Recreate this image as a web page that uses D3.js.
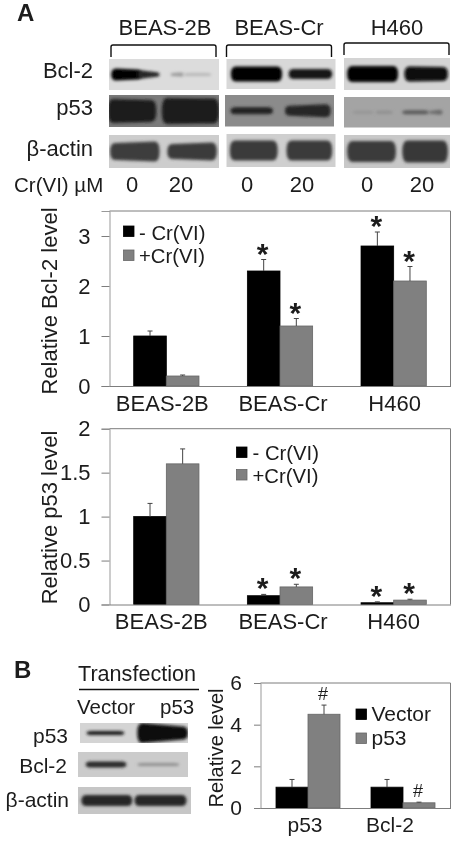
<!DOCTYPE html>
<html><head><meta charset="utf-8">
<style>html,body{margin:0;padding:0;background:#fff}svg{display:block}text{font-family:"Liberation Sans",Arial,sans-serif;fill:#1c1c1c}</style>
<script src="https://cdn.jsdelivr.net/npm/d3@7/dist/d3.min.js"></script>
</head><body><svg id="c" width="457" height="843"></svg>
<script>
// ---------- chart data ----------
const cellLines = ["BEAS-2B","BEAS-Cr","H460"];
const crSeries = ["- Cr(VI)","+Cr(VI)"];
const bcl2Minus = [1.0,2.3,2.8];
const bcl2Plus = [0.2,1.2,2.1];
const bcl2MinusTop = [1.1,2.53,3.08];
const bcl2PlusTop = [0.22,1.35,2.39];
const bcl2Ticks = [0,1,2,3];
const p53Minus = [1.0,0.1,0.02];
const p53Plus = [1.6,0.2,0.05];
const p53MinusTop = [1.15,0.115,0.03];
const p53PlusTop = [1.77,0.23,0.06];
const p53Ticks = [0,0.5,1,1.5,2];
const transSeries = ["Vector","p53"];
const transCats = ["p53","Bcl-2"];
const transVector = [1.0,1.0];
const transP53 = [4.5,0.25];
const transVectorTop = [1.37,1.37];
const transP53Top = [4.94,0.28];
const transTicks = [0,2,4,6];
const doses = ["0","20"];
// marks: which bars carry a significance symbol [group,series]
const bcl2Stars = [[1,0],[1,1],[2,0],[2,1]];
const p53Stars = [[1,0],[1,1],[2,0],[2,1]];
const transHash = [[0,1],[1,1]];
// ---------- blot data: [panel, start, end, thickLeft, thickRight, grey], start/end as a fraction of the panel width
const blotBcl2 = [[0,.02,.30,12,10,"#050505"],[0,.26,.46,8,5,"#262626"],[0,.56,.68,3,4,"#9a9a9a"],[0,.68,.93,3,3,"#b8b8b8"],
  [1,.04,.51,15,15,"#050505"],[1,.57,.97,10,10,"#151515"],[2,.03,.51,16,16,"#050505"],[2,.57,.98,15,14,"#0a0a0a"]];
const blotP53 = [[0,-.01,.43,24,22,"#1e1e1e"],[0,.48,1.0,26,25,"#1a1a1a"],
  [1,.05,.44,7,7,"#222"],[1,.55,.97,10,13,"#262626"],
  [2,.08,.28,3,3,"#959595"],[2,.30,.46,3,3,"#8e8e8e"],[2,.55,.80,4,4,"#5a5a5a"],[2,.80,.93,3,5,"#6a6a6a"]];
const blotActin = [[0,.01,.46,17,20,"#3c3c3c"],[0,.53,.98,15,18,"#3a3a3a"],
  [1,.03,.47,20,20,"#3a3a3a"],[1,.55,.97,20,20,"#3a3a3a"],[2,.03,.49,21,21,"#3a3a3a"],[2,.55,.98,22,22,"#383838"]];
const blotBP53 = [[0,.06,.41,4,4,"#1a1a1a"],[0,.53,1.0,20,13,"#0c0c0c"]];
const blotBBcl2 = [[0,.07,.44,6,6,"#2c2c2c"],[0,.54,.92,3,3,"#8f8f8f"]];
const blotBActin = [[0,.03,.48,11,11,"#262626"],[0,.50,.96,11,11,"#262626"]];

const svg = d3.select("#c");
const defs = svg.append("defs");
defs.append("filter").attr("id","bandBlur").attr("x","-20%").attr("y","-80%").attr("width","140%").attr("height","260%")
  .append("feGaussianBlur").attr("stdDeviation",1.8);
defs.append("filter").attr("id","soft").attr("x",0).attr("y",0).attr("width","100%").attr("height","100%")
  .attr("filterUnits","userSpaceOnUse").append("feGaussianBlur").attr("stdDeviation",0.35);
const root = svg.append("g").attr("filter","url(#soft)");
root.append("rect").attr("width",457).attr("height",843).attr("fill","#fff");

function label(txt,x,y,size,anchor,weight){
  return root.append("text").attr("x",x).attr("y",y).attr("font-size",size)
    .attr("text-anchor",anchor||"start").attr("font-weight",weight||"normal").text(txt);
}
// ---------- blots ----------
function blot(x0,x1,y0,y1,bg,bands,panelIdx){
  const g = root.append("g");
  g.append("rect").attr("x",x0).attr("y",y0).attr("width",x1-x0).attr("height",y1-y0).attr("fill",bg);
  const fx = d3.scaleLinear().domain([0,1]).range([x0,x1]);
  const cy = (y0+y1)/2;
  const clipId = "clip"+Math.round(x0)+"_"+Math.round(y0);
  defs.append("clipPath").attr("id",clipId).append("rect").attr("x",x0).attr("y",y0).attr("width",x1-x0).attr("height",y1-y0);
  const inner = g.append("g").attr("clip-path","url(#"+clipId+")");
  inner.selectAll("path").data(bands.filter(b=>b[0]===panelIdx)).join("path")
    .attr("filter","url(#bandBlur)").attr("fill",d=>d[5])
    .attr("d",d=>{
      const a=fx(d[1]),b=fx(d[2]),l=d[3]/2,r=d[4]/2,m=Math.min(5,(b-a)/4);
      return `M${a+m},${cy-l}L${b-m},${cy-r}Q${b},${cy-r} ${b},${cy}Q${b},${cy+r} ${b-m},${cy+r}L${a+m},${cy+l}Q${a},${cy+l} ${a},${cy}Q${a},${cy-l} ${a+m},${cy-l}Z`;
    });
}
const colX = [[109,219],[226.5,335.5],[344,450]];
blot(colX[0][0],colX[0][1],59,90,"#dcdcdc",blotBcl2,0);
blot(colX[1][0],colX[1][1],59,89,"#d8d8d8",blotBcl2,1);
blot(colX[2][0],colX[2][1],58,90,"#d4d4d4",blotBcl2,2);
blot(109,219,95,127,"#7a7a7a",blotP53,0);
blot(225,334,95,126.5,"#8b8b8b",blotP53,1);
blot(344,450,97,127.5,"#a4a4a4",blotP53,2);
blot(colX[0][0],colX[0][1],135,168,"#cdcdcd",blotActin,0);
blot(colX[1][0],colX[1][1],134,167,"#cfcfcf",blotActin,1);
blot(colX[2][0],colX[2][1],135,168,"#c8c8c8",blotActin,2);
blot(80,188,723,743,"#d4d4d4",blotBP53,0);
blot(78,188,752,777,"#cbcbcb",blotBBcl2,0);
blot(78,191,787,814,"#c6c6c6",blotBActin,0);

// ---------- panel A header ----------
label("A",17,21,24,"start","bold");
const headX = [165,279,397];
const headY = [35,35,35];
cellLines.forEach((c,i)=>label(c,headX[i],headY[i],22,"middle"));
const brackets = [[111,216,45,57],[226.5,331.5,45,57],[344,449,43,55]];
brackets.forEach(b=>root.append("path").attr("fill","none").attr("stroke","#111").attr("stroke-width",1.4)
  .attr("d",`M${b[0]},${b[3]}V${b[2]+2}Q${b[0]},${b[2]} ${b[0]+2},${b[2]}H${b[1]-2}Q${b[1]},${b[2]} ${b[1]},${b[2]+2}V${b[3]}`));
label("Bcl-2",93,78,22,"end");
label("p53",93,115,22,"end");
label("β-actin",93,156,22,"end");
label("Cr(VI) µM",14,192,20.5,"start");
const doseX = [[132,181],[247,302],[367,422]];
doseX.forEach(p=>doses.forEach((d,i)=>label(d,p[i],192,22,"middle")));

// ---------- bar chart helper ----------
function barChart(o){
  const g = root.append("g");
  const x = d3.scaleBand().domain(o.cats).range([o.left,o.right]);
  const inner = d3.scaleBand().domain(o.series).range([o.innerPad,x.bandwidth()-o.innerPad]);
  const y = d3.scaleLinear().domain(o.domain).range([o.bottom,o.top]);
  // frame
  g.append("path").attr("fill","none").attr("stroke","#7d7d7d").attr("stroke-width",1)
    .attr("d",`M${o.left},${y(o.domain[1])}H${o.right}V${o.bottom}`);
  // bars
  o.values.forEach((vals,si)=>{
    const cx = (d,i)=>x(o.cats[i])+inner(o.series[si]);
    g.selectAll(null).data(vals).join("rect")
      .attr("x",cx).attr("y",d=>y(d)).attr("width",inner.bandwidth()).attr("height",d=>o.bottom-y(d))
      .attr("fill",si?"#808080":"#000").attr("stroke",si?"#666":"#000").attr("stroke-width",.8);
    g.selectAll(null).data(o.tops[si]).join("path").attr("fill","none").attr("stroke","#444").attr("stroke-width",1)
      .attr("d",(d,i)=>{const c=cx(d,i)+inner.bandwidth()/2;
        return `M${c},${y(vals[i])}V${y(d)}M${c-2.5},${y(d)}H${c+2.5}`;});
  });
  // y axis
  const ya = g.append("g").attr("transform",`translate(${o.left},0)`)
    .call(d3.axisLeft(y).tickValues(o.ticks).tickFormat(d3.format("~g")).tickSize(o.tickLen).tickPadding(o.tickPad));
  ya.select(".domain").attr("stroke","#999");
  ya.selectAll(".tick line").attr("stroke","#7d7d7d");
  ya.selectAll("text").attr("font-size",o.tickFont).attr("font-family",null).attr("fill","#1c1c1c");
  // x axis
  const xa = g.append("g").attr("transform",`translate(0,${o.bottom})`)
    .call(d3.axisBottom(x).tickSize(0).tickPadding(o.xPad));
  xa.select(".domain").attr("stroke","#7d7d7d");
  xa.selectAll("text").attr("font-size",o.xFont).attr("font-family",null).attr("fill","#1c1c1c")
    .attr("dx",(d,i)=>o.xNudge[i]);
  // y title
  g.append("text").attr("transform",`translate(${o.titleX},${o.titleY}) rotate(-90)`)
    .attr("text-anchor","middle").attr("font-size",o.titleFont).text(o.title);
  // significance symbols
  g.selectAll(null).data(o.marks).join("text")
    .attr("text-anchor","middle").attr("font-size",o.markFont).attr("font-weight",o.markWeight)
    .attr("x",d=>x(o.cats[d[0]])+inner(o.series[d[1]])+inner.bandwidth()/2-1)
    .attr("y",d=>y(o.tops[d[1]][d[0]])+o.markDy).text(o.markChar);
  // legend
  o.series.forEach((s,i)=>{
    g.append("rect").attr("x",o.legX).attr("y",o.legY[i]).attr("width",o.legSize).attr("height",o.legSize)
      .attr("fill",i?"#808080":"#000").attr("stroke",i?"#666":"#000").attr("stroke-width",.8);
    g.append("text").attr("x",o.legTextX).attr("y",o.legBase[i]).attr("font-size",o.legFont).text(s);
  });
}
barChart({cats:cellLines,series:crSeries,values:[bcl2Minus,bcl2Plus],tops:[bcl2MinusTop,bcl2PlusTop],
  left:109.5,right:450.5,top:211,bottom:386,domain:[0,3.5],ticks:bcl2Ticks,innerPad:24.2,
  tickLen:8,tickPad:11,tickFont:22,xFont:22,xPad:9,xNudge:[-4,3,1],
  title:"Relative Bcl-2 level",titleX:57,titleY:301,titleFont:22,
  marks:bcl2Stars,markChar:"*",markFont:30,markWeight:"bold",markDy:4,
  legX:123.5,legY:[226,250],legSize:10.5,legTextX:139,legBase:[240,263],legFont:20.3});
barChart({cats:cellLines,series:crSeries,values:[p53Minus,p53Plus],tops:[p53MinusTop,p53PlusTop],
  left:109.5,right:450.5,top:428.7,bottom:604.5,domain:[0,2],ticks:p53Ticks,innerPad:24.2,
  tickLen:8,tickPad:11,tickFont:22,xFont:22,xPad:9,xNudge:[-5,3,0],
  title:"Relative p53 level",titleX:57,titleY:517.5,titleFont:22,
  marks:p53Stars,markChar:"*",markFont:30,markWeight:"bold",markDy:4,
  legX:236.5,legY:[447,469.5],legSize:10.5,legTextX:252.5,legBase:[459.5,482.5],legFont:20.3});
// ---------- panel B ----------
label("B",14,678,24,"start","bold");
label("Transfection",78,681,21.6,"start");
root.append("line").attr("x1",79).attr("x2",199).attr("y1",689.5).attr("y2",689.5).attr("stroke","#111").attr("stroke-width",1.4);
label("Vector",77,714,20.5,"start");
label("p53",160,714,20.5,"start");
label("p53",68,743,21,"end");
label("Bcl-2",67,773,21,"end");
label("β-actin",69,807,21,"end");
barChart({cats:transCats,series:transSeries,values:[transVector,transP53],tops:[transVectorTop,transP53Top],
  left:260.5,right:450.5,top:683,bottom:808,domain:[0,6],ticks:transTicks,innerPad:15.5,
  tickLen:6.5,tickPad:12,tickFont:21,xFont:21,xPad:9,xNudge:[-3,-13],
  title:"Relative level",titleX:222.5,titleY:748,titleFont:20,
  marks:transHash,markChar:"#",markFont:18,markWeight:"normal",markDy:-5,
  legX:356,legY:[709,733],legSize:10.5,legTextX:371.5,legBase:[721,744.5],legFont:21});
</script></body></html>
